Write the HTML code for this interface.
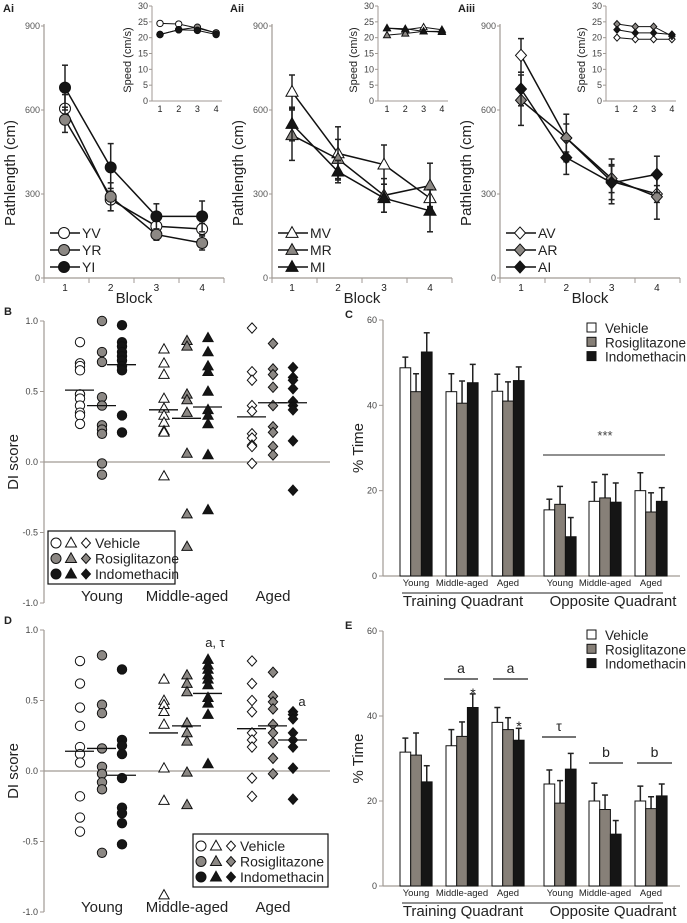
<!DOCTYPE html>
<html><head><meta charset="utf-8"><style>
html,body{margin:0;padding:0;background:#fff}
svg{display:block;font-family:"Liberation Sans",sans-serif}
</style></head><body>
<svg id="fig" width="687" height="923" viewBox="0 0 687 923" xmlns="http://www.w3.org/2000/svg"></svg>
<script>
// ---------- Panel A data ----------
const blocks = [1,2,3,4];
const pathYV = [605,280,185,175], pathYR = [565,290,155,125], pathYI = [680,395,220,220];
const errYV = [50,40,25,20], errYR = [45,50,20,25], errYI = [80,85,45,55];
const pathMV = [665,445,405,285], pathMR = [510,425,295,330], pathMI = [550,380,285,240];
const errMV = [60,95,70,30], errMR = [90,70,60,80], errMI = [60,40,50,75];
const pathAV = [795,500,345,300], pathAR = [635,500,355,290], pathAI = [675,430,340,370];
const errAV = [60,85,80,30], errAR = [90,50,50,80], errAI = [60,60,60,65];
const speedYV = [24.5,24.3,23,21.5], speedYR = [21,22.5,23.3,21.5], speedYI = [21,22.5,22.3,21];
const speedMV = [23,22.5,23.3,22.5], speedMR = [20.8,21.3,22,22], speedMI = [23,22.8,22,21.8];
const speedAV = [20,19.5,19.5,19.5], speedAR = [24.3,23.5,23.5,20.5], speedAI = [22.5,21.5,21.5,21];
const pathTicks = [0,300,600,900];
const speedTicks = [0,5,10,15,20,25,30];
// ---------- Panel B / D data ----------
const diGroups = ['Young','Middle-aged','Aged'];
const diTicks = [-1.0,-0.5,0.0,0.5,1.0];
const bYV=[0.85,0.70,0.68,0.65,0.48,0.45,0.40,0.35,0.33,0.27], bYR=[1.0,0.78,0.71,0.46,0.40,0.26,0.23,0.20,-0.01,-0.09], bYI=[0.97,0.85,0.82,0.78,0.75,0.72,0.68,0.65,0.33,0.21];
const bMV=[0.80,0.70,0.62,0.45,0.38,0.33,0.28,0.22,0.21,-0.10], bMR=[0.86,0.82,0.48,0.44,0.35,0.06,-0.37,-0.60], bMI=[0.88,0.78,0.68,0.64,0.50,0.37,0.33,0.27,0.05,-0.34];
const bAV=[0.95,0.64,0.58,0.40,0.36,0.20,0.17,0.12,0.11,-0.01], bAR=[0.84,0.66,0.62,0.53,0.40,0.25,0.21,0.11,0.05], bAI=[0.67,0.60,0.58,0.52,0.43,0.40,0.37,0.15,-0.20];
const bMeans=[0.51,0.40,0.69,0.37,0.31,0.39,0.32,0.42,0.42];
const dYV=[0.78,0.62,0.45,0.32,0.17,0.12,0.06,-0.18,-0.33,-0.43], dYR=[0.82,0.47,0.41,0.16,0.03,-0.02,-0.08,-0.13,-0.58], dYI=[0.72,0.22,0.18,0.12,-0.05,-0.26,-0.30,-0.37,-0.52];
const dMV=[0.65,0.50,0.47,0.42,0.33,0.02,-0.21,-0.88], dMR=[0.68,0.62,0.56,0.34,0.27,0.21,-0.01,-0.24], dMI=[0.79,0.75,0.72,0.68,0.65,0.61,0.52,0.48,0.40,0.05];
const dAV=[0.78,0.62,0.50,0.42,0.27,0.22,0.17,-0.05,-0.18], dAR=[0.70,0.53,0.49,0.44,0.33,0.27,0.20,0.09,-0.02], dAI=[0.42,0.40,0.37,0.27,0.22,0.17,0.02,-0.20];
const dMeans=[0.14,0.16,-0.03,0.27,0.32,0.55,0.30,0.32,0.22];
// ---------- Panel C / E data ----------
const barGroups=['Young','Middle-aged','Aged','Young','Middle-aged','Aged'];
const barTicks=[0,20,40,60];
const cVeh=[48.8,43.2,43.3,15.5,17.5,20], cRos=[43.2,40.5,41,16.8,18.3,15], cInd=[52.5,45.3,45.8,9.2,17.3,17.5];
const cVehE=[2.5,4.2,4,2.5,4.5,4.2], cRosE=[4.2,5.2,4.5,4.2,5.5,4.5], cIndE=[4.5,4.3,3.2,4.5,4.5,3.2];
const eVeh=[31.5,33,38.5,24,20,20], eRos=[30.8,35.2,36.8,19.5,18,18.2], eInd=[24.5,42,34.3,27.5,12.2,21.2];
const eVehE=[3.3,3.8,3.5,3.3,4.2,3.5], eRosE=[5.2,3.4,2.8,5.3,3.4,2.8], eIndE=[3.8,3.2,2.8,3.7,3.2,2.8];

const NS='http://www.w3.org/2000/svg';
const svg=document.getElementById('fig');
function mk(tag,attrs,parent){const e=document.createElementNS(NS,tag);for(const k in attrs)e.setAttribute(k,attrs[k]);(parent||svg).appendChild(e);return e;}
function txt(x,y,s,size,anchor,parent,extra){const e=mk('text',Object.assign({x:x,y:y,'font-size':size,'text-anchor':anchor||'start',fill:'#222'},extra||{}),parent);e.textContent=s;return e;}
const AX='#a09a94';
const GRAY='#8c8884', BLACK='#151515';

function marker(shape,fill,x,y,r,parent){
  let e;
  if(shape==='circle') e=mk('circle',{cx:x,cy:y,r:r,fill:fill,stroke:'#111','stroke-width':1},parent);
  else if(shape==='tri') e=mk('polygon',{points:`${x},${y-r*1.15} ${x-r*1.1},${y+r*0.8} ${x+r*1.1},${y+r*0.8}`,fill:fill,stroke:'#111','stroke-width':1},parent);
  else e=mk('polygon',{points:`${x},${y-r*1.1} ${x+r},${y} ${x},${y+r*1.1} ${x-r},${y}`,fill:fill,stroke:'#111','stroke-width':1},parent);
  return e;
}

// ---------- Panel A ----------
function drawA(cfg){
  const g=mk('g',{});
  
  
  const yA=v=>278-v*84/300;
  const xA=b=>cfg.bx0+(b-1)*cfg.bdx;
  txt(cfg.lx,12,cfg.label,11,'start',g,{'font-weight':'bold'});
  mk('line',{x1:cfg.ax,y1:24,x2:cfg.ax,y2:278,stroke:AX,'stroke-width':1.2},g);
  mk('line',{x1:cfg.ax,y1:278,x2:cfg.ax+180,y2:278,stroke:AX,'stroke-width':1.2},g);
  for(let i=0;i<5;i++) mk('line',{x1:cfg.ax+i*45,y1:278,x2:cfg.ax+i*45,y2:283,stroke:AX},g);
  pathTicks.forEach(t=>{mk('line',{x1:cfg.ax-3,y1:yA(t),x2:cfg.ax,y2:yA(t),stroke:AX},g);txt(cfg.ax-4,yA(t)+3,String(t),9,'end',g,{fill:'#555'});});
  blocks.forEach(b=>txt(xA(b),291,String(b),10,'middle',g));
  const bl=txt(cfg.ax+90,303,'Block',15,'middle',g);
  
  
  const yl=txt(0,0,'Pathlength (cm)',15,'middle',g,{transform:`translate(${cfg.ax-29},173) rotate(-90)`});
  
  
  // inset
  const yS=v=>101-v*95/30;
  const xS=b=>cfg.sx0+(b-1)*cfg.sdx;
  mk('line',{x1:cfg.sax,y1:6,x2:cfg.sax,y2:101,stroke:AX},g);
  mk('line',{x1:cfg.sax,y1:101,x2:cfg.sax+70,y2:101,stroke:AX},g);
  speedTicks.forEach(t=>{mk('line',{x1:cfg.sax-3,y1:yS(t),x2:cfg.sax,y2:yS(t),stroke:AX},g);txt(cfg.sax-4,yS(t)+3,String(t),9,'end',g,{fill:'#444'});});
  blocks.forEach(b=>txt(xS(b),112,String(b),9,'middle',g));
  txt(0,0,'Speed (cm/s)',11,'middle',g,{transform:`translate(${cfg.sax-21},60) rotate(-90)`});
  cfg.series.forEach((s,si)=>{
    const sg=mk('g',{},g);
    
    
    s.path.forEach((v,i)=>{const x=xA(blocks[i]);const e=s.err[i];
      mk('line',{x1:x,y1:yA(v-e),x2:x,y2:yA(v+e),stroke:'#222','stroke-width':1.5},sg);
      mk('line',{x1:x-3,y1:yA(v+e),x2:x+3,y2:yA(v+e),stroke:'#222','stroke-width':1.5},sg);
      mk('line',{x1:x-3,y1:yA(v-e),x2:x+3,y2:yA(v-e),stroke:'#222','stroke-width':1.5},sg);});
    mk('polyline',{points:s.path.map((v,i)=>xA(blocks[i])+','+yA(v)).join(' '),fill:'none',stroke:'#111','stroke-width':1.5},sg);
    s.path.forEach((v,i)=>{const m=marker(cfg.shape,s.fill,xA(blocks[i]),yA(v),5.5,sg);});
    mk('polyline',{points:s.speed.map((v,i)=>xS(blocks[i])+','+yS(v)).join(' '),fill:'none',stroke:'#111','stroke-width':1},sg);
    s.speed.forEach((v,i)=>{const m=marker(cfg.shape,s.fill,xS(blocks[i]),yS(v),3.2,sg);});
    // legend
    const ly=233+si*17;
    const lg=mk('g',{},g);
    
    
    mk('line',{x1:cfg.ax+6,y1:ly,x2:cfg.ax+36,y2:ly,stroke:'#111','stroke-width':1.5},lg);
    marker(cfg.shape,s.fill,cfg.ax+20,ly,5.5,lg);
    txt(cfg.ax+38,ly+5,s.key,14,'start',lg);
  });
}
drawA({name:'panel-ai',label:'Ai',lx:3,ax:44,bx0:65,bdx:45.7,sax:152,sx0:160,sdx:18.7,shape:'circle',series:[
 {key:'YV',fill:'#fff',path:pathYV,err:errYV,speed:speedYV},{key:'YR',fill:GRAY,path:pathYR,err:errYR,speed:speedYR},{key:'YI',fill:BLACK,path:pathYI,err:errYI,speed:speedYI}]});
drawA({name:'panel-aii',label:'Aii',lx:230,ax:272,bx0:292,bdx:46,sax:378,sx0:387,sdx:18.3,shape:'tri',series:[
 {key:'MV',fill:'#fff',path:pathMV,err:errMV,speed:speedMV},{key:'MR',fill:GRAY,path:pathMR,err:errMR,speed:speedMR},{key:'MI',fill:BLACK,path:pathMI,err:errMI,speed:speedMI}]});
drawA({name:'panel-aiii',label:'Aiii',lx:458,ax:500,bx0:521,bdx:45.3,sax:606,sx0:617,sdx:18.3,shape:'dia',series:[
 {key:'AV',fill:'#fff',path:pathAV,err:errAV,speed:speedAV},{key:'AR',fill:GRAY,path:pathAR,err:errAR,speed:speedAR},{key:'AI',fill:BLACK,path:pathAI,err:errAI,speed:speedAI}]});

// ---------- Panels B / D ----------
const colX=[80,102,122,164,187,208,252,273,293];
const colShape=['circle','circle','circle','tri','tri','tri','dia','dia','dia'];
const colFill=['#fff',GRAY,BLACK,'#fff',GRAY,BLACK,'#fff',GRAY,BLACK];
function drawDI(cfg){
  const g=mk('g',{});
  
  
  const y=v=>cfg.y0-v*cfg.k;
  txt(4,cfg.y0-cfg.k-6,cfg.label,11,'start',g,{'font-weight':'bold'});
  mk('line',{x1:44,y1:y(1),x2:44,y2:y(-1),stroke:AX,'stroke-width':1.2},g);
  mk('line',{x1:44,y1:y(0),x2:330,y2:y(0),stroke:AX,'stroke-width':1.2},g);
  diTicks.forEach(t=>{mk('line',{x1:40,y1:y(t),x2:44,y2:y(t),stroke:AX},g);txt(38,y(t)+3,t.toFixed(1),9,'end',g,{fill:'#444'});});
  const yl=txt(0,0,'DI score',15,'middle',g,{transform:`translate(18,${y(0)}) rotate(-90)`});
  
  
  diGroups.forEach((s,i)=>{const t=txt(colX[i*3+1],cfg.y0+cfg.k*1.0+cfg.gl,s,15,'middle',g);});
  cfg.cols.forEach((arr,ci)=>{
    const cg=mk('g',{},g);
    
    
    arr.forEach(v=>{const m=marker(colShape[ci],colFill[ci],colX[ci],y(v),4.7,cg);});
    const ml=mk('line',{x1:colX[ci]-15,y1:y(cfg.means[ci]),x2:colX[ci]+14,y2:y(cfg.means[ci]),stroke:'#111','stroke-width':1.3},cg);
    
    
  });
  // legend
  const lg=mk('g',{},g);
  
  
  mk('rect',{x:cfg.lx,y:cfg.ly,width:cfg.lw,height:53,fill:'#fff',stroke:'#111','stroke-width':1.2},lg);
  ['Vehicle','Rosiglitazone','Indomethacin'].forEach((s,i)=>{const fy=cfg.ly+12+i*15.5;const f=['#fff',GRAY,BLACK][i];
    marker('circle',f,cfg.lx+8,fy,5,lg);marker('tri',f,cfg.lx+23,fy,5,lg);marker('dia',f,cfg.lx+38,fy,4.5,lg);
    txt(cfg.lx+47,fy+5,s,14,'start',lg);});
}
drawDI({name:'panel-b',label:'B',y0:462,k:141,gl:-2,cols:[bYV,bYR,bYI,bMV,bMR,bMI,bAV,bAR,bAI],means:bMeans,lx:48,ly:531,lw:127});
drawDI({name:'panel-d',label:'D',y0:771,k:141,gl:0,cols:[dYV,dYR,dYI,dMV,dMR,dMI,dAV,dAR,dAI],means:dMeans,lx:193,ly:834,lw:135});
const ann1=txt(215,647,'a, τ',13,'middle');


const ann2=txt(302,706,'a',13,'middle');



// ---------- Panels C / E ----------
const groupX0=[400,446,492,544,589,635];
const barW=10.7;
function drawBars(cfg){
  const g=mk('g',{});
  
  
  const y=v=>cfg.y0-v*cfg.k;
  txt(345,cfg.y0-60*cfg.k-2,cfg.label,11,'start',g,{'font-weight':'bold'});
  mk('line',{x1:383,y1:y(60),x2:383,y2:cfg.y0,stroke:AX,'stroke-width':1.2},g);
  mk('line',{x1:383,y1:cfg.y0,x2:680,y2:cfg.y0,stroke:AX,'stroke-width':1.2},g);
  barTicks.forEach(t=>{mk('line',{x1:379,y1:y(t),x2:383,y2:y(t),stroke:AX},g);txt(377,y(t)+3,String(t),9,'end',g,{fill:'#444'});});
  const yl=txt(0,0,'% Time',15,'middle',g,{transform:`translate(363,${y(30)}) rotate(-90)`});
  
  
  const fills=['#fff','#878078','#151515'];
  cfg.series.forEach((s,si)=>{
    const sg=mk('g',{},g);
    
    
    s.v.forEach((v,i)=>{const x=groupX0[i]+si*barW;
      mk('line',{x1:x+barW/2,y1:y(v),x2:x+barW/2,y2:y(v+s.e[i]),stroke:'#222','stroke-width':1.5},sg);
      mk('line',{x1:x+barW/2-3,y1:y(v+s.e[i]),x2:x+barW/2+3,y2:y(v+s.e[i]),stroke:'#222','stroke-width':1.5},sg);
      const r=mk('rect',{x:x,y:y(v),width:barW,height:v*cfg.k,fill:fills[si],stroke:'#111','stroke-width':1},sg);
      
      });
  });
  barGroups.forEach((s,i)=>txt(groupX0[i]+16,cfg.y0+10,s,9.5,'middle',g));
  mk('line',{x1:402,y1:cfg.y0+17,x2:663,y2:cfg.y0+17,stroke:'#222','stroke-width':1},g);
  txt(463,cfg.y0+30,'Training Quadrant',15,'middle',g);
  txt(613,cfg.y0+30,'Opposite Quadrant',15,'middle',g);
  const lg=mk('g',{},g);
  
  
  ['Vehicle','Rosiglitazone','Indomethacin'].forEach((s,i)=>{const ly=cfg.ly+i*14.3;
    mk('rect',{x:587,y:ly-5,width:9,height:9,fill:fills[i],stroke:'#111'},lg);txt(605,ly+5,s,13.5,'start',lg);});
}
drawBars({name:'panel-c',label:'C',y0:576,k:256/60,ly:328,series:[{v:cVeh,e:cVehE},{v:cRos,e:cRosE},{v:cInd,e:cIndE}]});
drawBars({name:'panel-e',label:'E',y0:886,k:255/60,ly:635,series:[{v:eVeh,e:eVehE},{v:eRos,e:eRosE},{v:eInd,e:eIndE}]});
// C annotation
mk('line',{x1:543,y1:455,x2:665,y2:455,stroke:'#222','stroke-width':1});
txt(605,440,'***',13,'middle',null,{fill:'#444'});
// E annotations
[[444,478,679,'a'],[493,528,679,'a'],[542,576,737,'τ'],[589,623,763,'b'],[637,672,763,'b']].forEach(a=>{
  mk('line',{x1:a[0],y1:a[2],x2:a[1],y2:a[2],stroke:'#222','stroke-width':1.2});
  txt((a[0]+a[1])/2,a[2]-6,a[3],14,'middle');});
txt(473,698,'*',14,'middle');
txt(519,731,'*',14,'middle');
</script>
</body></html>
